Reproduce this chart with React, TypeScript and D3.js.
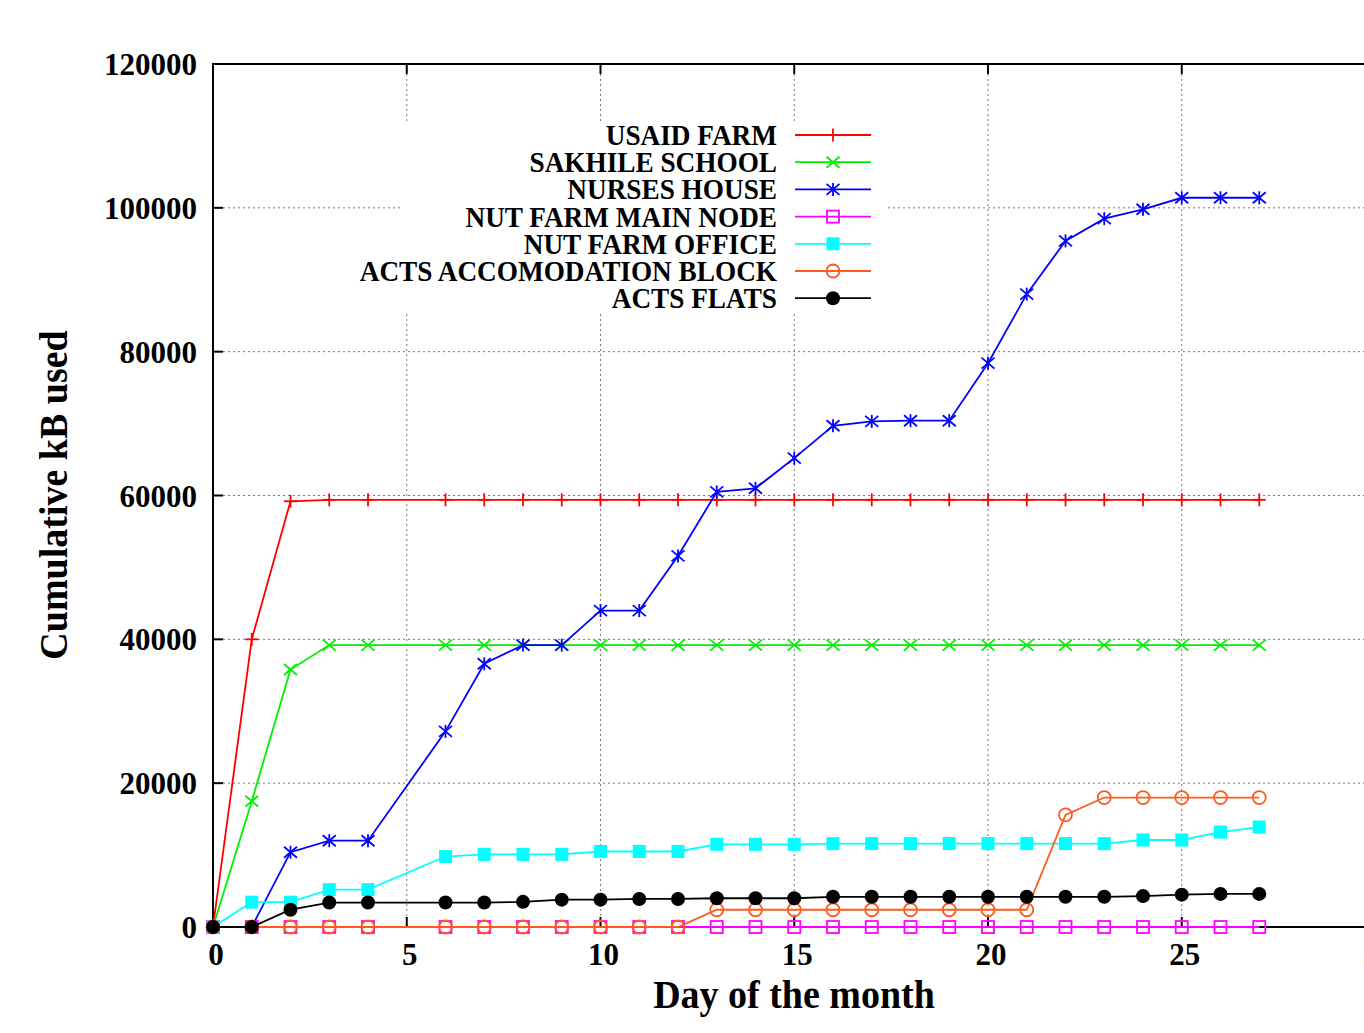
import { useEffect, useRef } from 'react';
import * as d3 from 'd3';

const days = [0, 1, 2, 3, 4, 6, 7, 8, 9, 10, 11, 12, 13, 14, 15, 16, 17, 18, 19, 20, 21, 22, 23, 24, 25, 26, 27];

const usaidFarm = [0, 40000, 59200, 59400, 59400, 59400, 59400, 59400, 59400, 59400, 59400, 59400, 59400, 59400, 59400, 59400, 59400, 59400, 59400, 59400, 59400, 59400, 59400, 59400, 59400, 59400, 59400];
const sakhileSchool = [0, 17500, 35800, 39200, 39200, 39200, 39200, 39200, 39200, 39200, 39200, 39200, 39200, 39200, 39200, 39200, 39200, 39200, 39200, 39200, 39200, 39200, 39200, 39200, 39200, 39200, 39200];
const nursesHouse = [0, 0, 10400, 12000, 12000, 27200, 36600, 39200, 39200, 44000, 44000, 51600, 60500, 61000, 65200, 69700, 70300, 70400, 70400, 78400, 88000, 95400, 98500, 99800, 101400, 101400, 101400];
const nutFarmMainNode = [0, 0, 0, 0, 0, 0, 0, 0, 0, 0, 0, 0, 0, 0, 0, 0, 0, 0, 0, 0, 0, 0, 0, 0, 0, 0, 0];
const nutFarmOffice = [0, 3450, 3450, 5200, 5200, 9800, 10100, 10100, 10100, 10500, 10500, 10500, 11500, 11500, 11500, 11600, 11600, 11600, 11600, 11600, 11600, 11600, 11600, 12100, 12100, 13200, 13900];
const actsAccomodation = [0, 0, 0, 0, 0, 0, 0, 0, 0, 0, 0, 0, 2400, 2400, 2400, 2400, 2400, 2400, 2400, 2400, 2400, 15600, 18000, 18000, 18000, 18000, 18000];
const actsFlats = [0, 0, 2400, 3400, 3400, 3400, 3400, 3500, 3800, 3800, 3900, 3900, 4000, 4000, 4000, 4200, 4200, 4200, 4200, 4200, 4200, 4200, 4200, 4300, 4500, 4600, 4600];

const seriesNames = ['USAID FARM', 'SAKHILE SCHOOL', 'NURSES HOUSE', 'NUT FARM MAIN NODE', 'NUT FARM OFFICE', 'ACTS ACCOMODATION BLOCK', 'ACTS FLATS'];
const seriesValues = [usaidFarm, sakhileSchool, nursesHouse, nutFarmMainNode, nutFarmOffice, actsAccomodation, actsFlats];
const seriesColors = ['#ff0000', '#00ee00', '#0000ff', '#ff00ff', '#00ffff', '#ff5a1e', '#000000'];
const seriesMarkers = ['plus', 'cross', 'star', 'square', 'fsquare', 'circle', 'fcircle'];

const xTicks = [0, 5, 10, 15, 20, 25, 30];
const yTicks = [0, 20000, 40000, 60000, 80000, 100000, 120000];

const FONT = '"Liberation Serif", "Times New Roman", serif';

export default function App() {
  const svgRef = useRef<SVGSVGElement>(null);

  useEffect(() => {
    if (!svgRef.current) return;
    const svg = d3.select(svgRef.current);
    svg.selectAll('*').remove();

    const left = 213, top = 64, bottom = 927;
    const x = d3.scaleLinear().domain([0, 30]).range([left, left + 30 * 38.75]);
    const y = d3.scaleLinear().domain([0, 120000]).range([bottom, top]);
    const right = x(30);

    // squeezed serif text like the original
    const label = (px: number, py: number, txt: string, size: number, anchor: string, sx: number, rot = 0) =>
      svg.append('text')
        .attr('transform', `translate(${px},${py}) rotate(${rot}) scale(${sx},1)`)
        .attr('text-anchor', anchor)
        .attr('font-family', FONT)
        .attr('font-weight', 'bold')
        .attr('font-size', size)
        .attr('fill', '#000')
        .text(txt);

    // grid
    const grid = svg.append('g').attr('stroke', '#777').attr('stroke-width', 1).attr('stroke-dasharray', '2,3');
    yTicks.slice(1, -1).forEach(v => {
      grid.append('line').attr('x1', left).attr('x2', right).attr('y1', y(v)).attr('y2', y(v));
    });
    xTicks.slice(1, -1).forEach(v => {
      grid.append('line').attr('x1', x(v)).attr('x2', x(v)).attr('y1', top).attr('y2', bottom);
    });

    // key background hides the grid
    svg.append('rect').attr('x', 403).attr('y', 122).attr('width', 482).attr('height', 192).attr('fill', '#fff');

    // frame + ticks
    const frame = svg.append('g').attr('stroke', '#000').attr('stroke-width', 2).attr('fill', 'none');
    frame.append('rect').attr('x', left).attr('y', top).attr('width', right - left).attr('height', bottom - top);
    yTicks.forEach(v => {
      frame.append('line').attr('x1', left).attr('x2', left + 10).attr('y1', y(v)).attr('y2', y(v));
      frame.append('line').attr('x1', right).attr('x2', right - 10).attr('y1', y(v)).attr('y2', y(v));
    });
    xTicks.forEach(v => {
      frame.append('line').attr('x1', x(v)).attr('x2', x(v)).attr('y1', bottom).attr('y2', bottom - 10);
      frame.append('line').attr('x1', x(v)).attr('x2', x(v)).attr('y1', top).attr('y2', top + 10);
    });

    yTicks.forEach(v => label(197, y(v) + 11, String(v), 32, 'end', 0.97));
    xTicks.forEach(v => label(x(v) + 3, 965, String(v), 32, 'middle', 0.97));
    label(794, 1008, 'Day of the month', 40, 'middle', 0.95);
    label(67, 495, 'Cumulative kB used', 40, 'middle', 0.95, -90);

    const drawMarker = (g: any, kind: string, cx: number, cy: number, color: string) => {
      const s = 6.5;
      const sw = 1.8;
      if (kind === 'plus' || kind === 'star') {
        g.append('line').attr('x1', cx).attr('x2', cx).attr('y1', cy - s).attr('y2', cy + s).attr('stroke', color).attr('stroke-width', sw);
      }
      if (kind === 'plus') {
        g.append('line').attr('x1', cx - s).attr('x2', cx + s).attr('y1', cy).attr('y2', cy).attr('stroke', color).attr('stroke-width', sw);
      }
      if (kind === 'cross' || kind === 'star') {
        g.append('line').attr('x1', cx - s).attr('x2', cx + s).attr('y1', cy - 5.5).attr('y2', cy + 5.5).attr('stroke', color).attr('stroke-width', sw);
        g.append('line').attr('x1', cx - s).attr('x2', cx + s).attr('y1', cy + 5.5).attr('y2', cy - 5.5).attr('stroke', color).attr('stroke-width', sw);
      }
      if (kind === 'square') {
        g.append('rect').attr('x', cx - 6).attr('y', cy - 6).attr('width', 12).attr('height', 12)
          .attr('fill', 'none').attr('stroke', color).attr('stroke-width', sw);
      }
      if (kind === 'fsquare') {
        g.append('rect').attr('x', cx - 6.5).attr('y', cy - 6.5).attr('width', 13).attr('height', 13).attr('fill', color);
      }
      if (kind === 'circle') {
        g.append('circle').attr('cx', cx).attr('cy', cy).attr('r', 6.5).attr('fill', 'none').attr('stroke', color).attr('stroke-width', sw);
      }
      if (kind === 'fcircle') {
        g.append('circle').attr('cx', cx).attr('cy', cy).attr('r', 7).attr('fill', color);
      }
    };

    const line = d3.line<number>().x((_, i) => x(days[i])).y(d => y(d));

    seriesValues.forEach((vals, si) => {
      const color = seriesColors[si];
      const g = svg.append('g');
      g.append('path').datum(vals).attr('d', line).attr('fill', 'none').attr('stroke', color).attr('stroke-width', 1.8);
      vals.forEach((v, i) => drawMarker(g, seriesMarkers[si], x(days[i]), y(v), color));

      // key entry
      const ky = 135 + si * 27.2;
      label(777, ky + 10, seriesNames[si], 29, 'end', 0.94);
      g.append('line').attr('x1', 795).attr('x2', 871).attr('y1', ky).attr('y2', ky).attr('stroke', color).attr('stroke-width', 1.8);
      drawMarker(g, seriesMarkers[si], 833, ky, color);
    });
  }, []);

  return (
    <svg
      ref={svgRef}
      width={1364}
      height={1033}
      style={{ position: 'absolute', left: 0, top: 0, display: 'block', background: '#fff' }}
    />
  );
}
